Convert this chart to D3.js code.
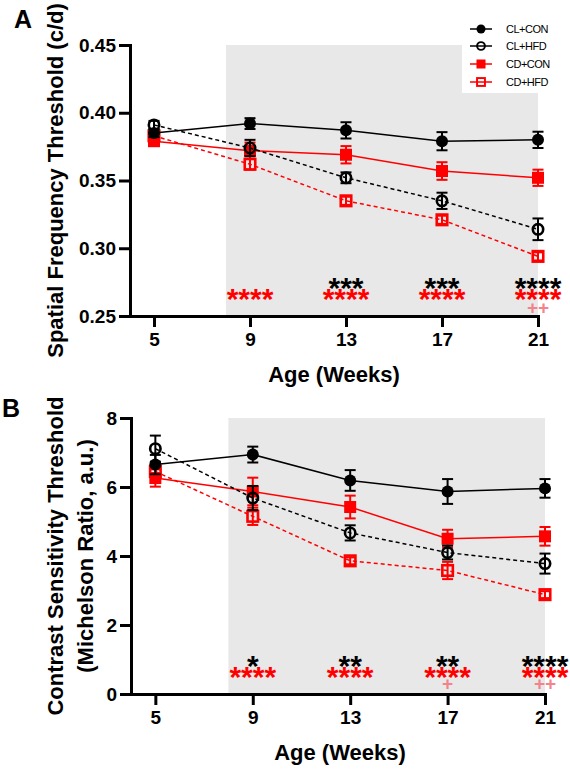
<!DOCTYPE html>
<html>
<head>
<meta charset="utf-8">
<script src="https://cdn.jsdelivr.net/npm/d3@7"></script>
<style>
  body { margin: 0; background: #fff; }
  text { font-family: "Liberation Sans", Arial, sans-serif; }
</style>
</head>
<body>
<script>
// ---------- DATA ----------
const weeks = [5, 9, 13, 17, 21];
const seriesNames = ["CL+CON", "CL+HFD", "CD+CON", "CD+HFD"];

// Panel A: Spatial frequency threshold (c/d)
const sfCLCON = [0.385, 0.392, 0.387, 0.379, 0.380];
const sfCLCONerr = [0.003, 0.004, 0.006, 0.0067, 0.006];
const sfCLHFD = [0.391, 0.374, 0.352, 0.335, 0.314];
const sfCLHFDerr = [0.003, 0.006, 0.004, 0.006, 0.008];
const sfCDCON = [0.379, 0.372, 0.369, 0.357, 0.352];
const sfCDCONerr = [0.003, 0.006, 0.0064, 0.0065, 0.006];
const sfCDHFD = [0.383, 0.362, 0.335, 0.321, 0.294];
const sfCDHFDerr = [0.003, 0.004, 0.003, 0.003, 0.003];
const sfTicks = [0.25, 0.30, 0.35, 0.40, 0.45];

// Panel B: Contrast sensitivity threshold
const csCLCON = [6.65, 6.94, 6.19, 5.87, 5.96];
const csCLCONerr = [0.28, 0.23, 0.30, 0.36, 0.27];
const csCLHFD = [7.11, 5.68, 4.67, 4.10, 3.78];
const csCLHFDerr = [0.38, 0.35, 0.22, 0.20, 0.29];
const csCDCON = [6.26, 5.87, 5.42, 4.50, 4.57];
const csCDCONerr = [0.25, 0.40, 0.33, 0.26, 0.27];
const csCDHFD = [6.45, 5.15, 3.86, 3.58, 2.88];
const csCDHFDerr = [0.20, 0.25, 0.10, 0.25, 0.10];
const csTicks = [0, 2, 4, 6, 8];

// Significance annotations
const sfStarsBlack = ["", "", "***", "***", "****"];
const sfStarsRed = ["", "****", "****", "****", "****"];
const sfPlus = ["", "", "", "", "++"];
const csStarsBlack = ["", "*", "**", "**", "****"];
const csStarsRed = ["", "****", "****", "****", "****"];
const csPlus = ["", "", "", "+", "++"];

// ---------- STYLE ----------
const styles = {
  "CL+CON": { color: "#000", dash: null, shape: "circle", fill: true },
  "CL+HFD": { color: "#000", dash: "4,3", shape: "circle", fill: false },
  "CD+CON": { color: "#ff0000", dash: null, shape: "square", fill: true },
  "CD+HFD": { color: "#ff0000", dash: "4,3", shape: "square", fill: false }
};
const drawOrder = ["CD+HFD", "CD+CON", "CL+HFD", "CL+CON"];
const FONT = '"Liberation Sans", Arial, sans-serif';

const svg = d3.select("body").append("svg").attr("width", 570).attr("height", 769);

function drawMarker(g, name, cx, cy, small) {
  const s = styles[name];
  const k = small ? 0.75 : 1;
  if (s.shape === "circle") {
    if (s.fill) g.append("circle").attr("cx", cx).attr("cy", cy).attr("r", 6 * k).attr("fill", s.color);
    else g.append("circle").attr("cx", cx).attr("cy", cy).attr("r", 5.2 * k)
      .attr("fill", "none").attr("stroke", s.color).attr("stroke-width", 2.6 * k);
  } else {
    if (s.fill) {
      const a = 12 * k;
      g.append("rect").attr("x", cx - a / 2).attr("y", cy - a / 2).attr("width", a).attr("height", a).attr("fill", s.color);
    } else {
      const a = 10.5 * k;
      g.append("rect").attr("x", cx - a / 2).attr("y", cy - a / 2).attr("width", a).attr("height", a)
        .attr("fill", "none").attr("stroke", s.color).attr("stroke-width", 2.6 * k);
    }
  }
}

function panel(cfg) {
  const x = d3.scaleLinear().domain([4, 21]).range(cfg.xr);
  const y = d3.scaleLinear().domain(cfg.yd).range(cfg.yr);
  const g = svg.append("g");

  g.append("rect").attr("x", x(8)).attr("y", y(cfg.yd[1]))
    .attr("width", x(21) - x(8)).attr("height", y(cfg.yd[0]) - y(cfg.yd[1]))
    .attr("fill", "#e8e8e8");

  if (cfg.legend) {
    g.append("rect").attr("x", 462).attr("y", y(cfg.yd[1]))
      .attr("width", x(21) - 462).attr("height", 93 - y(cfg.yd[1])).attr("fill", "#fff");
    const ly = [29, 46, 64, 82];
    seriesNames.forEach((n, i) => {
      const s = styles[n];
      g.append("line").attr("x1", 470).attr("x2", 492).attr("y1", ly[i]).attr("y2", ly[i])
        .attr("stroke", s.color).attr("stroke-width", 1.5);
      drawMarker(g, n, 481, ly[i], true);
      g.append("text").attr("x", 506).attr("y", ly[i] + 4).text(n)
        .attr("font-size", 11).attr("letter-spacing", "-0.5px").attr("fill", "#000");
    });
  }

  weeks.forEach((w, i) => {
    const cx = x(w);
    if (cfg.black[i]) g.append("text").attr("x", cx).attr("y", y(cfg.annY[0]) + 17)
      .attr("text-anchor", "middle").attr("font-size", 30).attr("font-weight", "bold")
      .attr("fill", "#000").text(cfg.black[i]);
    if (cfg.red[i]) g.append("text").attr("x", cx).attr("y", y(cfg.annY[1]) + 16)
      .attr("text-anchor", "middle").attr("font-size", 30).attr("font-weight", "bold")
      .attr("fill", "#ff0000").text(cfg.red[i]);
    if (cfg.plus[i]) g.append("text").attr("x", cx).attr("y", y(cfg.annY[2]) + 8.5)
      .attr("text-anchor", "middle").attr("font-size", 19).attr("font-weight", "bold")
      .attr("fill", "#f4828a").text(cfg.plus[i]);
  });

  drawOrder.forEach(n => {
    const s = styles[n];
    const vals = cfg.series[n], errs = cfg.errs[n];
    const pts = weeks.map((w, i) => [w, vals[i], errs[i]]);
    g.append("path").datum(pts)
      .attr("d", d3.line().x(d => x(d[0])).y(d => y(d[1])))
      .attr("fill", "none").attr("stroke", s.color).attr("stroke-width", 1.5)
      .attr("stroke-dasharray", s.dash);
    pts.forEach(d => {
      const cx = x(d[0]);
      const y1 = y(d[1] - d[2]), y2 = y(d[1] + d[2]);
      g.append("line").attr("x1", cx).attr("x2", cx).attr("y1", y1).attr("y2", y2)
        .attr("stroke", s.color).attr("stroke-width", 2);
      [y1, y2].forEach(yy => g.append("line").attr("x1", cx - 5.5).attr("x2", cx + 5.5)
        .attr("y1", yy).attr("y2", yy).attr("stroke", s.color).attr("stroke-width", 2));
      drawMarker(g, n, cx, y(d[1]), false);
    });
  });

  const xAxis = d3.axisBottom(x).tickValues(weeks).tickSize(11).tickSizeOuter(0).tickPadding(6);
  const yAxis = d3.axisLeft(y).tickValues(cfg.ticks).tickSize(11).tickSizeOuter(0).tickPadding(3)
    .tickFormat(cfg.fmt);
  const gx = g.append("g").attr("transform", `translate(0,${y(cfg.yd[0])})`).call(xAxis);
  const gy = g.append("g").attr("transform", `translate(${cfg.xr[0]},0)`).call(yAxis);
  [gx, gy].forEach(a => {
    a.selectAll("path,line").attr("stroke", "#000").attr("stroke-width", 3);
    a.selectAll("path").attr("stroke-linecap", "square");
    a.selectAll("text").attr("font-size", 19).attr("font-weight", "bold")
      .attr("font-family", FONT).attr("fill", "#000");
  });

  g.append("text").attr("x", cfg.xTitle[0]).attr("y", cfg.xTitle[1]).attr("text-anchor", "middle")
    .attr("font-size", 22).attr("font-weight", "bold").text("Age (Weeks)");
  const cy = (cfg.yr[0] + cfg.yr[1]) / 2;
  cfg.yTitle.forEach((t, i) => {
    g.append("text").attr("transform", `translate(${cfg.yTitleX[i]},${cy}) rotate(-90)`)
      .attr("text-anchor", "middle").attr("font-size", 22).attr("font-weight", "bold").text(t);
  });
  g.append("text").attr("x", cfg.label[0]).attr("y", cfg.label[1]).attr("font-size", 25)
    .attr("font-weight", "bold").text(cfg.label[2]);
}

panel({
  xr: [130, 538], yd: [0.25, 0.45], yr: [316, 45], ticks: sfTicks, fmt: d3.format(".2f"),
  series: { "CL+CON": sfCLCON, "CL+HFD": sfCLHFD, "CD+CON": sfCDCON, "CD+HFD": sfCDHFD },
  errs: { "CL+CON": sfCLCONerr, "CL+HFD": sfCLHFDerr, "CD+CON": sfCDCONerr, "CD+HFD": sfCDHFDerr },
  black: sfStarsBlack, red: sfStarsRed, plus: sfPlus, annY: [0.2758, 0.2673, 0.2576],
  legend: true, xTitle: [334, 382], yTitle: ["Spatial Frequency Threshold (c/d)"], yTitleX: [63],
  label: [14, 28, "A"]
});

panel({
  xr: [131, 545], yd: [0, 8], yr: [694, 418], ticks: csTicks, fmt: d3.format("d"),
  series: { "CL+CON": csCLCON, "CL+HFD": csCLHFD, "CD+CON": csCDCON, "CD+HFD": csCDHFD },
  errs: { "CL+CON": csCLCONerr, "CL+HFD": csCLHFDerr, "CD+CON": csCDCONerr, "CD+HFD": csCDHFDerr },
  black: csStarsBlack, red: csStarsRed, plus: csPlus, annY: [1.02, 0.66, 0.36],
  legend: false, xTitle: [340, 760],
  yTitle: ["Contrast Sensitivity Threshold", "(Michelson Ratio, a.u.)"], yTitleX: [63, 92.5],
  label: [2, 417, "B"]
});
</script>
</body>
</html>
